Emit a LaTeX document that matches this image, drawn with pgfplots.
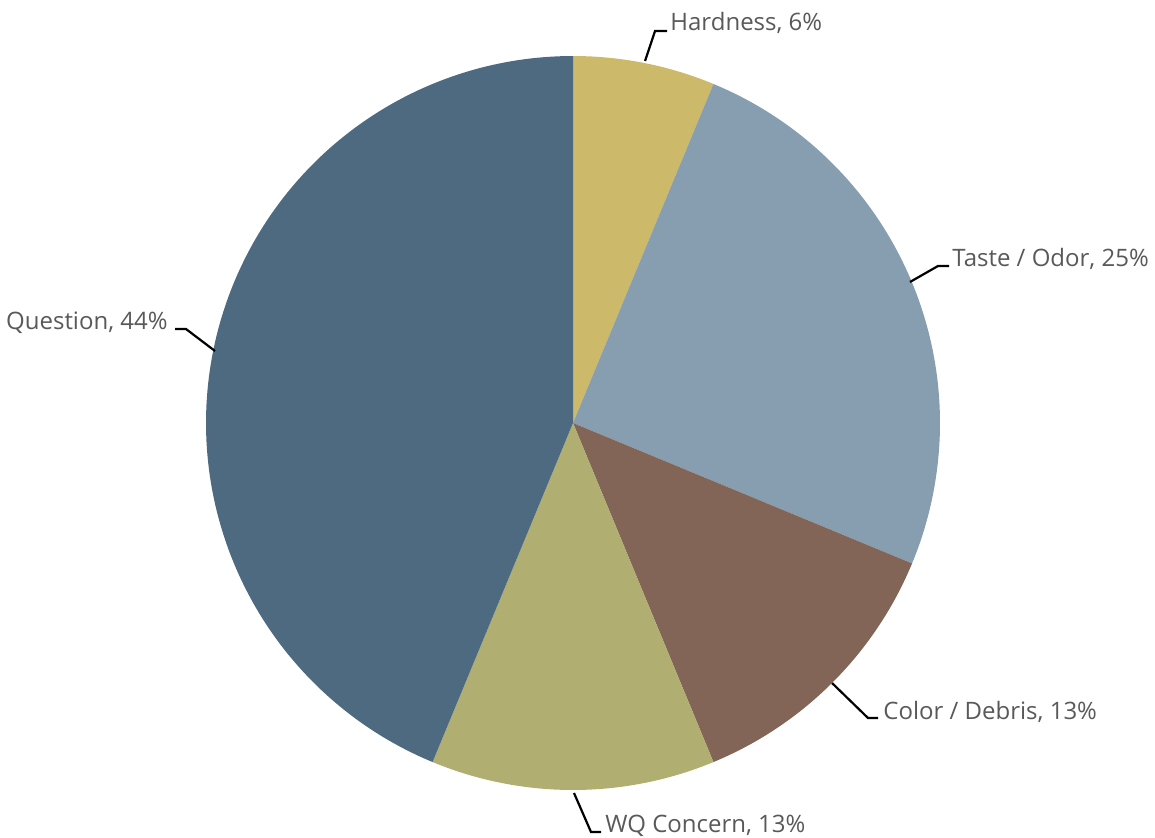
\documentclass[border=0pt]{standalone}
\usepackage{fontspec}
\setmainfont{Open Sans}
\usepackage{pgfplots}
\usepackage{pgfplotstable}
\pgfplotsset{compat=1.18}
\definecolor{cHard}{HTML}{CDB96A}
\definecolor{cTaste}{HTML}{879DB0}
\definecolor{cColor}{HTML}{826556}
\definecolor{cWQ}{HTML}{B0AE70}
\definecolor{cQuest}{HTML}{4E6A80}
\definecolor{txt}{HTML}{595959}
\pgfplotstableread{
label value
Hardness 6.25
Taste/Odor 25
Color/Debris 12.5
WQConcern 12.5
Question 43.75
}\piedata
\begin{document}%
\begin{tikzpicture}
\pgfplotstablegetelem{0}{value}\of\piedata \let\vA\pgfplotsretval
\pgfplotstablegetelem{1}{value}\of\piedata \let\vB\pgfplotsretval
\pgfplotstablegetelem{2}{value}\of\piedata \let\vC\pgfplotsretval
\pgfplotstablegetelem{3}{value}\of\piedata \let\vD\pgfplotsretval
\pgfplotstablegetelem{4}{value}\of\piedata \let\vE\pgfplotsretval
\pgfmathsetmacro\aA{0}
\pgfmathsetmacro\aB{\aA+3.6*\vA}
\pgfmathsetmacro\aC{\aB+3.6*\vB}
\pgfmathsetmacro\aD{\aC+3.6*\vC}
\pgfmathsetmacro\aE{\aD+3.6*\vD}
\pgfmathsetmacro\aF{\aE+3.6*\vE}
\begin{axis}[hide axis, scale only axis, width=577.5pt, height=418.5pt,
  xmin=0, xmax=1155, ymin=0, ymax=837, clip=false]
\coordinate (bl) at (rel axis cs:0,0);
\coordinate (tr) at (rel axis cs:1,1);
\addplot[fill=cHard, draw=none, domain=\aA:\aB, samples=30] ({573+367*sin(x)},{414+367*cos(x)}) -- (axis cs:573,414) -- cycle;
\addplot[fill=cTaste, draw=none, domain=\aB:\aC, samples=80] ({573+367*sin(x)},{414+367*cos(x)}) -- (axis cs:573,414) -- cycle;
\addplot[fill=cColor, draw=none, domain=\aC:\aD, samples=50] ({573+367*sin(x)},{414+367*cos(x)}) -- (axis cs:573,414) -- cycle;
\addplot[fill=cWQ, draw=none, domain=\aD:\aE, samples=50] ({573+367*sin(x)},{414+367*cos(x)}) -- (axis cs:573,414) -- cycle;
\addplot[fill=cQuest, draw=none, domain=\aE:\aF, samples=140] ({573+367*sin(x)},{414+367*cos(x)}) -- (axis cs:573,414) -- cycle;
% leader lines
\draw[black, line width=1.1pt] (axis cs:645,776) -- (axis cs:655,806) -- (axis cs:667,806);
\draw[black, line width=1.1pt] (axis cs:910,555) -- (axis cs:938,571) -- (axis cs:949,571);
\draw[black, line width=1.1pt] (axis cs:215,486) -- (axis cs:186,508) -- (axis cs:175,508);
\draw[black, line width=1.1pt] (axis cs:832,154) -- (axis cs:868,119) -- (axis cs:878,119);
\draw[black, line width=1.1pt] (axis cs:574,44) -- (axis cs:591,5) -- (axis cs:601,5);
% labels
\begin{scope}[every node/.style={inner sep=0pt, text=txt, font=\fontsize{12}{14}\selectfont}]
\node[anchor=base west] at (axis cs:670,806) {Hardness, 6\%};
\node[anchor=base west] at (axis cs:952,571) {Taste / Odor, 25\%};
\node[anchor=base east] at (axis cs:168,508) {Question, 44\%};
\node[anchor=base west] at (axis cs:883,118) {Color / Debris, 13\%};
\node[anchor=base west] at (axis cs:605,5) {WQ Concern, 13\%};
\end{scope}
\end{axis}
\pgfresetboundingbox
\path (bl) rectangle (tr);
\end{tikzpicture}%
\end{document}
